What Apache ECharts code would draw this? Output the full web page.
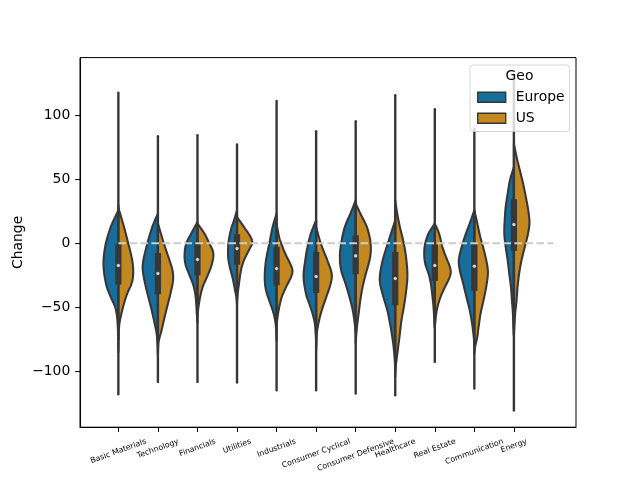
<!DOCTYPE html>
<html>
<head>
<meta charset="utf-8">
<script src="https://cdn.jsdelivr.net/npm/echarts@6/dist/echarts.min.js"></script>
<style>html,body{margin:0;padding:0;background:#fff}#c{width:640px;height:480px}</style>
</head>
<body>
<div id="c"></div>
<script>
const categories = ['Basic Materials','Technology','Financials','Utilities','Industrials','Consumer Cyclical','Consumer Defensive','Healthcare','Real Estate','Communication','Energy'];
const seriesNames = ['Europe','US'];
const yAxisTitle = 'Change';
const legendTitle = 'Geo';
const medians = [-17.4,-23.7,-12.8,-4.2,-19.8,-26,-9.9,-27.6,-17.4,-18,14.6];
const q1 = [-32.3,-39.8,-25,-16.7,-32.8,-38.8,-24.2,-48.4,-29.4,-37.2,-6];
const q3 = [-0.8,-7.6,-0.2,7,-2.9,-6.8,6.2,-6.8,-1,-0.8,34.4];
const extentHigh = [117.6,83.6,84.4,77.1,111.2,87.5,95.3,115.6,104.7,89.6,131.9];
const extentLow = [-118,-108.3,-108.3,-108.8,-114.8,-114.8,-117.4,-118.8,-92.7,-113.5,-130.6];
// density profiles: [value, density]
const europeDensity = [
  [[25.8,0],[20,3.5],[12.7,7.7],[-0.2,12.7],[-13.3,15],[-23.7,14.3],[-34.1,11.7],[-42,7.7],[-49.8,3.3],[-57.6,1.3],[-68,0.4],[-75,0]],
  [[23.2,0],[12.7,5.7],[-0.2,10.7],[-13.3,14.7],[-21.1,15.3],[-31.5,13],[-42,9.7],[-52.3,6.3],[-62.7,3.3],[-70.5,1.3],[-78.4,0.5],[-86,0]],
  [[16.6,0],[7.6,6.3],[-0.2,11.3],[-8,13],[-15.9,12.3],[-23.7,8.7],[-31.5,4.7],[-39.3,2.3],[-47.1,1.3],[-54.9,0.7],[-62,0]],
  [[25.8,0],[18,3],[10.2,6.3],[-0.2,8.7],[-10.7,9],[-18.5,7.3],[-26.3,4.7],[-34.1,2.7],[-42,0.7],[-48,0]],
  [[23.2,0],[12.7,4],[-0.2,7.3],[-13.3,10.7],[-26.3,12],[-36.7,10.7],[-47.1,6.3],[-54.9,3],[-62.7,1],[-70.5,0.3],[-76,0]],
  [[18,0],[7.6,5.3],[-2.9,8.7],[-13.3,11],[-26.3,12.7],[-39.3,10.3],[-47.1,7],[-54.9,3.7],[-62.7,1.3],[-70.5,0.5],[-76,0]],
  [[33.6,0],[23.2,5.3],[12.7,11],[-0.2,14.7],[-10.7,16],[-21.1,14.7],[-31.5,10.3],[-42,6.3],[-52.3,3],[-62.7,1],[-70,0]],
  [[18,0],[7.6,4.3],[-2.9,8.7],[-13.3,12.7],[-23.7,15.3],[-31.5,15.3],[-42,12],[-52.3,8],[-62.7,5.3],[-73.2,3],[-83.6,1.3],[-94,0.3],[-100,0]],
  [[15.4,0],[7.6,6.3],[-0.2,9.7],[-8,10.7],[-15.9,9.7],[-23.7,6.3],[-31.5,4],[-39.3,2.7],[-49.8,1.3],[-60.2,0.5],[-66,0]],
  [[25.8,0],[15.4,4.7],[4.9,9.7],[-5.5,13.7],[-13.3,15.7],[-21.1,14.7],[-31.5,11.3],[-42,8],[-52.3,4.7],[-62.7,2.3],[-70.5,1],[-78,0]],
  [[59.6,0],[49.2,4],[38.8,6.3],[28.4,8.3],[18,9.3],[7.6,9.7],[-2.9,8.3],[-13.3,6.3],[-23.7,4.7],[-34.1,3],[-44.5,2],[-54.9,1],[-65.4,0.5],[-72,0]]
];
const usDensity = [
  [[30,0],[25.8,0.8],[12.7,5.7],[-0.2,10],[-13.3,14],[-23.7,15],[-31.5,13.3],[-39.3,9],[-47.1,5.7],[-57.6,2.3],[-65.4,0.7],[-75.8,0.2],[-85,0]],
  [[15.4,0],[7.6,3],[-0.2,6],[-13.3,11.7],[-21.1,14.7],[-28.9,15.3],[-39.3,12.7],[-49.8,9.3],[-60.2,6],[-68,3.7],[-75.8,1],[-81,0.3],[-88,0]],
  [[15.4,0],[7.6,7],[-0.2,12],[-5.5,15.3],[-10.7,16],[-18.5,13.7],[-26.3,9.7],[-34.1,5.3],[-42,2.7],[-49.8,1],[-57,0]],
  [[20.5,0],[12.7,7],[4.9,13.7],[0.2,15.3],[-5.5,12],[-13.3,7],[-21.1,4],[-31.5,2],[-39.3,0.7],[-46,0]],
  [[15,0],[5,2.5],[-0.2,4.7],[-8,8.7],[-15.9,13.7],[-21.1,16],[-26.3,14.7],[-34.1,9.7],[-42,5.3],[-49.8,2.7],[-57.6,1],[-65,0]],
  [[12.7,0],[-0.2,4.7],[-13.3,11.3],[-23.7,15.7],[-31.5,14.7],[-42,10.3],[-52.3,5.7],[-62.7,2.3],[-70.5,0.7],[-78.4,0.3],[-84,0]],
  [[31,0],[23.2,4.7],[12.7,11.3],[2.3,14.7],[-5.5,15.3],[-13.3,14],[-23.7,10.3],[-34.1,7],[-44.5,4.7],[-54.9,3],[-62.7,1.7],[-70.5,0.7],[-78,0]],
  [[33.6,0],[23.2,2],[12.7,4.7],[-0.2,8.7],[-13.3,11.3],[-26.3,12.3],[-39.3,10.7],[-49.8,8.7],[-60.2,6.3],[-70.5,4.7],[-81,3],[-88.8,1.7],[-96.6,0.5],[-104,0]],
  [[15.4,0],[7.6,4.3],[-2.9,7.7],[-10.7,11.3],[-18.5,15.3],[-23.7,16],[-28.9,13.7],[-36.7,8.7],[-44.5,4.7],[-52.3,2],[-60.2,0.7],[-66,0]],
  [[25.8,0],[15.4,3],[4.9,6],[-5.5,9.7],[-15.9,12.7],[-23.7,13.7],[-34.1,12],[-44.5,9.3],[-54.9,6.3],[-65.4,4.3],[-73.2,3],[-80,1],[-86,0]],
  [[77.9,0],[67.4,2.7],[57,6],[46.6,9.3],[33.6,12.7],[23.2,15],[15.4,15.7],[7.6,14.3],[-2.9,11],[-13.3,7.7],[-23.7,5.3],[-34.1,3.7],[-44.5,2.7],[-54.9,1.3],[-65.4,0.5],[-72,0]]
];
const yTicks = [-100,-50,0,50,100];
const refLineValue = 0;
const refLineFrom = 0, refLineTo = 11;

const FONT = '"DejaVu Sans", sans-serif';
const colors = {Europe:'#176D9C', US:'#C38820'};
const EDGE = '#373737';
const K = 0.4/16; // density -> category width units

function spline(pts) {
  const out = [];
  const n = pts.length;
  for (let i = 0; i < n - 1; i++) {
    const p0 = pts[Math.max(i-1,0)], p1 = pts[i], p2 = pts[i+1], p3 = pts[Math.min(i+2,n-1)];
    const steps = 10;
    for (let s = 0; s < steps; s++) {
      const t = s/steps, t2 = t*t, t3 = t2*t;
      const f = (a,b,c,d) => 0.5*((2*b) + (-a+c)*t + (2*a-5*b+4*c-d)*t2 + (-a+3*b-3*c+d)*t3);
      out.push([f(p0[0],p1[0],p2[0],p3[0]), Math.max(0, f(p0[1],p1[1],p2[1],p3[1]))]);
    }
  }
  out.push(pts[n-1]);
  return out;
}

function violinRender(dens, side, color) {
  return function(params, api) {
    const i = api.value(0);
    const pts = spline(dens[i]);
    const poly = [api.coord([i, pts[0][0]])];
    pts.forEach(p => poly.push(api.coord([i + side*p[1]*K, p[0]])));
    poly.push(api.coord([i, pts[pts.length-1][0]]));
    return {type:'polygon', shape:{points: poly}, style:{fill: color, stroke: EDGE, lineWidth: 2.08, lineJoin:'round'}};
  };
}

const idxData = categories.map((c,i) => [i]);

const chart = echarts.init(document.getElementById('c'), null, {renderer:'canvas'});
const measure = document.createElement('canvas').getContext('2d');
const labelFont = 7.8;
measure.font = labelFont + 'px "DejaVu Sans"';
const ROT = 20*Math.PI/180;

const option = {
  animation: false,
  backgroundColor: '#fff',
  textStyle: {fontFamily: FONT},
  grid: {left: 80, right: 64, top: 57.6, bottom: 52.8, show: true, borderColor: '#000', borderWidth: 1, backgroundColor: 'transparent'},
  xAxis: {
    type: 'value', min: -0.97, max: 11.57,
    axisLine: {show: true, onZero: false, lineStyle: {color: '#000', width: 1}},
    axisTick: {show: true, customValues: categories.map((c,i)=>i), length: 4.86, lineStyle: {color:'#000', width: 1}},
    axisLabel: {show: false},
    splitLine: {show: false}
  },
  yAxis: {
    type: 'value', min: -143.7, max: 145,
    axisLine: {show: true, onZero: false, lineStyle: {color: '#000', width: 1}},
    axisTick: {show: true, customValues: yTicks, length: 4.86, lineStyle: {color:'#000', width: 1}},
    axisLabel: {show: true, customValues: yTicks, margin: 9.7, fontSize: 13.9, color: '#000', fontFamily: FONT,
      formatter: v => String(v).replace('-', '\u2212')},
    splitLine: {show: false}
  },
  legend: {
    orient: 'vertical', left: 477, top: 90.3, padding: 0, itemGap: 7,
    itemWidth: 28, itemHeight: 10, icon: 'rect', z: 20,
    itemStyle: {borderColor: EDGE, borderWidth: 1.4},
    textStyle: {fontSize: 13.9, color: '#000', fontFamily: FONT, lineHeight: 14, padding: [0,0,0,5]},
    data: seriesNames
  },
  graphic: [
    {type:'rect', z: 19, shape:{x:470, y:65, width:99.5, height:66.5, r:3}, style:{fill:'rgba(255,255,255,0.8)', stroke:'rgba(204,204,204,0.8)', lineWidth:1}},
    {type:'text', z: 20, x: 519.5, y: 76.5, style:{text: legendTitle, font: '13.9px ' + FONT, fill:'#000', align:'center', verticalAlign:'middle'}},
    {type:'text', z: 20, x: 18.5, y: 242.4, rotation: Math.PI/2, style:{text: yAxisTitle, font: '13.9px ' + FONT, fill:'#000', align:'center', verticalAlign:'middle'}}
  ],
  series: [
    {type:'custom', name:'Europe', z: 2, data: idxData, itemStyle:{color: colors.Europe}, renderItem: violinRender(europeDensity, -1, colors.Europe), clip: false},
    {type:'custom', name:'US', z: 2, data: idxData, itemStyle:{color: colors.US}, renderItem: violinRender(usDensity, 1, colors.US), clip: false},
    {type:'custom', name:'box', z: 3, data: idxData, clip: false, renderItem: function(params, api) {
      const i = api.value(0);
      const lo = api.coord([i, extentLow[i]]), hi = api.coord([i, extentHigh[i]]);
      const b1 = api.coord([i, q1[i]]), b3 = api.coord([i, q3[i]]);
      return {type:'group', children:[
        {type:'line', shape:{x1: lo[0], y1: lo[1], x2: hi[0], y2: hi[1]}, style:{stroke: EDGE, lineWidth: 2.4, lineCap:'round'}},
        {type:'line', shape:{x1: b1[0], y1: b1[1], x2: b3[0], y2: b3[1]}, style:{stroke: EDGE, lineWidth: 6.25, lineCap:'butt'}}
      ]};
    }},
    {type:'custom', name:'ref', z: 4, data: [[refLineFrom, refLineTo, refLineValue]], clip: false, renderItem: function(params, api) {
      const a = api.coord([api.value(0), api.value(2)]), b = api.coord([api.value(1), api.value(2)]);
      return {type:'line', shape:{x1:a[0], y1:a[1], x2:b[0], y2:b[1]}, style:{stroke:'#cccccc', lineWidth: 2.08, lineDash:[7.7,3.3]}};
    }},
    {type:'scatter', name:'median', z: 5, data: medians.map((m,i)=>[i,m]), symbol:'circle', symbolSize: 3.6,
      itemStyle:{color:'#fff', borderColor: EDGE, borderWidth: 0.3}, silent: true},
    {type:'custom', name:'xlabels', z: 5, data: idxData, clip: false, renderItem: function(params, api) {
      const i = api.value(0);
      const base = api.coord([i, -143.7]);
      const w = measure.measureText(categories[i]).width;
      const h = labelFont*1.0;
      const bh = w*Math.sin(ROT) + h*Math.cos(ROT);
      const top = base[1] + 4.86 + 5.5;
      return {type:'text', x: base[0], y: top + bh/2, rotation: ROT,
        style:{text: categories[i], x:0, y:0, align:'center', verticalAlign:'middle', font: labelFont + 'px ' + FONT, fill:'#000'}};
    }}
  ]
};
chart.setOption(option);
</script>
</body>
</html>
